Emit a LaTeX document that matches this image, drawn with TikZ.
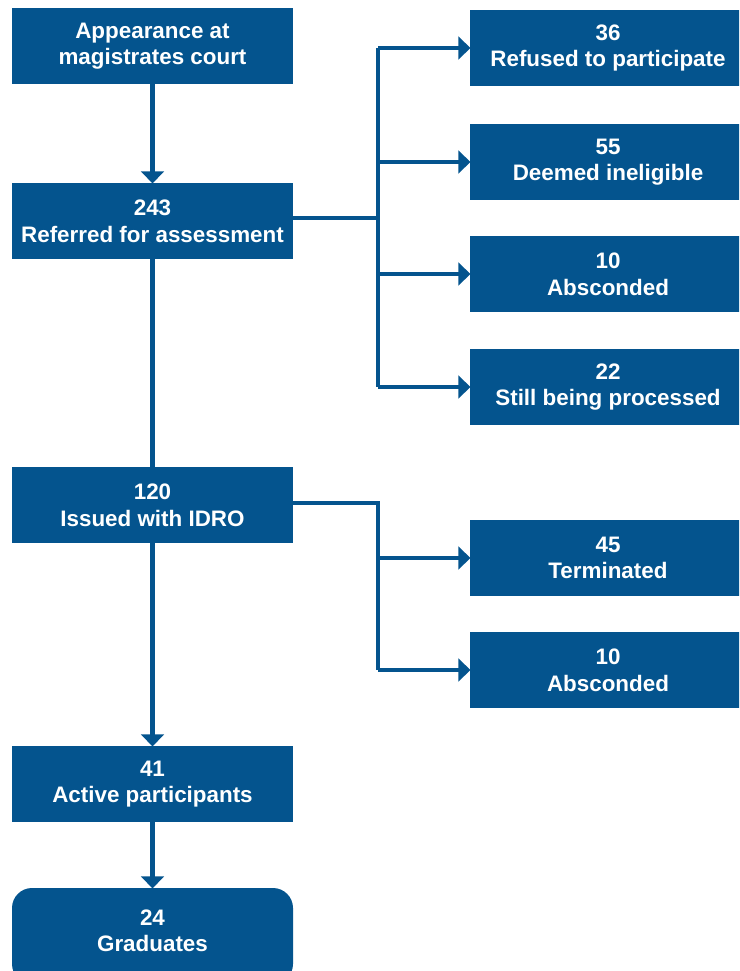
\documentclass[tikz,border=0pt]{standalone}
\usepackage{fontspec}
\setmainfont{Liberation Sans}
\usepackage{tikz}
\usetikzlibrary{positioning, arrows.meta}
\definecolor{Navy}{HTML}{04548E}

\tikzset{
    flowbox/.style={fill=Navy, text=white, font=\fontsize{16.8}{20}\selectfont\bfseries,
        align=center, inner sep=0pt, minimum width=210.75pt, minimum height=57pt},
    sidebox/.style={flowbox, minimum width=207pt},
    endbox/.style={flowbox, rounded corners=15pt, minimum height=72pt},
    link/.style={draw=Navy, line width=3.6pt},
    linkarrow/.style={link, -{Triangle[length=9pt, width=17pt]}, shorten >=-0.5pt}
}

\begin{document}
\begin{tikzpicture}[x=0.75pt, y=-0.75pt]
    \useasboundingbox (0,0) rectangle (739,971);
    \clip (0,0) rectangle (739,971);

    % main column
    \node[flowbox] (appear) at (152.5, 46) {Appearance at\\magistrates court};
    \node[flowbox] (refer)  at (152.5, 221) {243\\Referred for assessment};
    \node[flowbox] (idro)   at (152.5, 505) {120\\Issued with IDRO};
    \node[flowbox] (active) at (152.5, 784) {41\\Active participants};
    \node[endbox, text depth=8pt] (grad) at (152.5, 936) {24\\Graduates};

    % outcomes of assessment
    \node[sidebox] (refused)    at (608, 48)  {36\\Refused to participate};
    \node[sidebox] (ineligible) at (608, 162) {55\\Deemed ineligible};
    \node[sidebox] (abscA)      at (608, 274) {10\\Absconded};
    \node[sidebox] (still)      at (608, 387) {22\\Still being processed};

    % outcomes of IDRO
    \node[sidebox] (term)  at (608, 558) {45\\Terminated};
    \node[sidebox] (abscB) at (608, 670) {10\\Absconded};

    \draw[linkarrow] (appear) -- (refer);
    \draw[link]      (refer) -- (idro);
    \draw[linkarrow] (idro) -- (active);
    \draw[linkarrow] (active) -- (grad);

    \coordinate (hubA) at (378, 218);
    \draw[link] (refer.east |- hubA) -- (hubA);
    \draw[link] (hubA |- refused.west) -- (hubA |- still.west);
    \foreach \n in {refused, ineligible, abscA, still}
        \draw[linkarrow] (hubA |- \n.west) -- (\n.west);

    \coordinate (hubB) at (378, 503);
    \draw[link] (idro.east |- hubB) -- (hubB) -- (hubB |- abscB.west);
    \foreach \n in {term, abscB}
        \draw[linkarrow] (hubB |- \n.west) -- (\n.west);
\end{tikzpicture}
\end{document}
